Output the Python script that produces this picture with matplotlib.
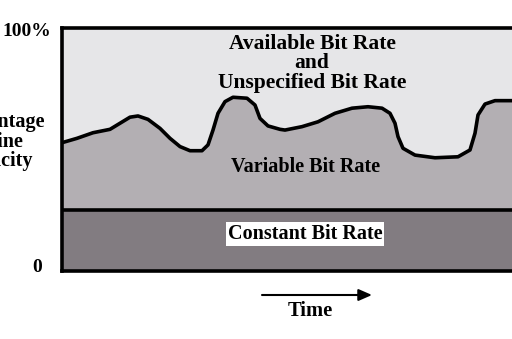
import numpy as np
import matplotlib.pyplot as plt

# ==========================================
# Data
# ==========================================
# time in arbitrary units, top of the variable bit rate band in % of line capacity
time = [0, 15, 31, 48, 58, 68, 76, 86, 98, 108, 118, 128, 140, 146, 151, 156, 163,
        171, 185, 193, 198, 206, 218, 223, 240, 256, 273, 290, 306, 320, 328, 333,
        336, 341, 353, 373, 396, 408, 413, 416, 423, 433, 450, 500]
vbr_top = [52.8, 54.6, 56.9, 58.3, 60.8, 63.3, 63.8, 62.4, 58.7, 54.6, 51.2, 49.5,
           49.5, 51.9, 58.0, 64.9, 69.7, 71.5, 71.1, 68.3, 62.8, 59.7, 58.3, 58.0,
           59.4, 61.4, 64.9, 67.0, 67.6, 67.0, 64.9, 60.8, 55.3, 50.5, 47.7, 46.6,
           47.0, 49.8, 56.7, 64.2, 68.7, 70.1, 70.1, 70.1]
cbr_level = 25

abr_lines = ["Available Bit Rate", "and", "Unspecified Bit Rate"]
vbr_label = "Variable Bit Rate"
cbr_label = "Constant Bit Rate"
ylabel_lines = ["Percentage", "of Line", "Capacity"]

# colours
c_abr = "#e6e6e8"
c_vbr = "#b3afb3"
c_cbr = "#827c81"

plt.rcParams['font.family'] = ['Liberation Serif', 'DejaVu Serif']
plt.rcParams['font.weight'] = 'bold'

fig = plt.figure(figsize=(5.12, 3.39), dpi=100)
ax = fig.add_axes([62 / 512, 68 / 339, 500 / 512, 243 / 339])

t = np.array(time)
v = np.array(vbr_top)
ax.fill_between(t, v, 100, color=c_abr, lw=0)
ax.fill_between(t, cbr_level, v, color=c_vbr, lw=0)
ax.fill_between(t, 0, cbr_level, color=c_cbr, lw=0)
ax.plot(t, v, color="black", lw=2.6, solid_joinstyle="round", solid_capstyle="round")
ax.axhline(cbr_level, color="black", lw=2.6)

ax.set_xlim(0, 500)
ax.set_ylim(0, 100)
ax.set_xticks([])
ax.set_yticks([])
for s in ax.spines.values():
    s.set_linewidth(2.6)
    s.set_color("black")

# region labels
for y, line in zip([93.3, 85.4, 77.2], abr_lines):
    ax.text(250, y, line, ha="center", va="center", fontsize=15.5, fontweight="bold")
ax.text(244, 42.8, vbr_label, ha="center", va="center", fontsize=14.5,
        fontweight="bold")
ax.text(243, 15.2, cbr_label, ha="center", va="center", fontsize=14.5,
        fontweight="bold",
        bbox=dict(boxstyle="square,pad=0.08", facecolor="white", edgecolor="none"))

# axis labels (the left label is cut by the image edge, as in the original)
fig.text(51 / 512, 1 - 32 / 339, "100%", ha="right", va="center", fontsize=14,
         fontweight="bold")
fig.text(37 / 512, 1 - 267 / 339, "0", ha="center", va="center", fontsize=14,
         fontweight="bold")
for x, y, line in zip([45, 23, 33], [122, 142, 161], ylabel_lines):
    fig.text(x / 512, 1 - y / 339, line, ha="right", va="center", fontsize=14.5,
             fontweight="bold")

# time arrow
fig.text(310 / 512, 1 - 311 / 339, "Time", ha="center", va="center", fontsize=14.8,
         fontweight="bold")
ax_arrow = fig.add_axes([0, 0, 1, 1], facecolor="none")
ax_arrow.set_axis_off()
ax_arrow.set_xlim(0, 512)
ax_arrow.set_ylim(339, 0)
ax_arrow.annotate("", xy=(372, 295), xytext=(262, 295),
                  arrowprops=dict(arrowstyle="-|>,head_length=0.8,head_width=0.35",
                                  color="black", lw=1.5, shrinkA=0, shrinkB=0))

fig.savefig("out.png", dpi=100)
